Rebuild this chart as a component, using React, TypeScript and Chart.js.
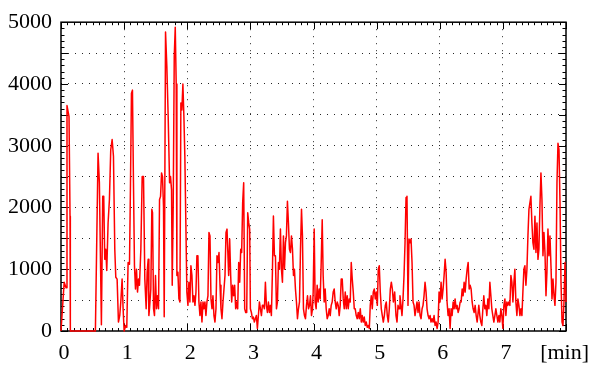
import React, { useEffect, useRef } from "react";
import { Chart, registerables } from "chart.js";

Chart.register(...registerables);

// time [min], value
const seg0: [number, number][] = [
  [0, 0], [0.05, 790], [0.08, 700], [0.095, 3650], [0.127, 3470], [0.143, 1860], [0.148, 0],
  [0.545, 0], [0.587, 2880], [0.608, 2400], [0.64, 100], [0.661, 2180], [0.677, 2180],
  [0.693, 1160], [0.709, 1325], [0.725, 980], [0.746, 1750], [0.767, 2130], [0.788, 2935],
  [0.81, 3100], [0.831, 2830], [0.852, 1325], [0.868, 870], [0.889, 840], [0.91, 145],
  [0.931, 253], [0.947, 470], [0.968, 840], [0.984, 360], [1.0, 0], [1.026, 90], [1.042, 60],
  [1.063, 1110], [1.085, 1080], [1.101, 2400], [1.116, 3850], [1.132, 3900], [1.148, 2400],
  [1.164, 1057], [1.18, 680], [1.196, 1000], [1.212, 630], [1.228, 840], [1.243, 740],
  [1.265, 1325], [1.286, 2500], [1.307, 2500],
];

const seg1: [number, number][] = [
  [1.328, 840], [1.349, 360], [1.365, 950], [1.381, 1160], [1.392, 250], [1.402, 360],
  [1.423, 680], [1.439, 1970], [1.45, 1915], [1.466, 360], [1.481, 250], [1.497, 900],
  [1.513, 360], [1.529, 570], [1.545, 360], [1.561, 2130], [1.577, 2180], [1.593, 2560],
  [1.608, 2500], [1.624, 2020], [1.635, 230], [1.656, 4840], [1.677, 4275], [1.698, 3470],
  [1.72, 2400], [1.735, 2500], [1.751, 2290], [1.762, 740], [1.778, 2080], [1.794, 4440],
  [1.81, 4920], [1.825, 4000], [1.836, 900], [1.852, 950], [1.868, 520], [1.884, 470],
  [1.899, 3690], [1.915, 3580], [1.931, 4000], [1.947, 3470], [1.962, 2830], [1.978, 1750],
  [1.994, 630], [2.011, 415], [2.026, 790], [2.042, 470], [2.058, 1057], [2.074, 900],
  [2.09, 470], [2.106, 570], [2.122, 415], [2.138, 630], [2.153, 1220], [2.169, 1220],
  [2.185, 470], [2.201, 250], [2.217, 470], [2.233, 145], [2.249, 470], [2.265, 360],
  [2.28, 470], [2.296, 250], [2.312, 470], [2.328, 570], [2.344, 1594], [2.36, 1540],
  [2.376, 520], [2.392, 360], [2.407, 570], [2.423, 250], [2.439, 145], [2.455, 360],
  [2.471, 1220], [2.487, 1110], [2.503, 1270], [2.519, 740], [2.534, 360], [2.55, 200],
  [2.566, 470], [2.582, 680], [2.598, 900], [2.614, 1594], [2.63, 1650],
];

const seg2: [number, number][] = [
  [2.656, 900], [2.672, 1490], [2.688, 900], [2.704, 470], [2.72, 740], [2.735, 570],
  [2.751, 740], [2.767, 360], [2.783, 470], [2.799, 360], [2.815, 1110], [2.831, 790],
  [2.847, 1325], [2.862, 1270], [2.878, 2080], [2.894, 2400], [2.91, 360], [2.926, 300],
  [2.942, 300], [2.958, 1915], [2.974, 1750], [2.989, 1650], [3.0, 360], [3.016, 300],
  [3.032, 200], [3.048, 225], [3.063, 145], [3.079, 200], [3.095, 250], [3.111, 40],
  [3.127, 250], [3.143, 470], [3.159, 360], [3.175, 250], [3.19, 415], [3.206, 415],
  [3.222, 360], [3.238, 790], [3.254, 415], [3.27, 300], [3.286, 470], [3.302, 300],
  [3.317, 415], [3.333, 250], [3.349, 950], [3.365, 1862], [3.381, 1220], [3.397, 1220],
  [3.413, 360], [3.429, 470], [3.444, 1110], [3.46, 1000], [3.476, 1650], [3.492, 1000],
  [3.508, 790], [3.524, 1540], [3.54, 1000], [3.556, 1430], [3.571, 1540], [3.587, 2100],
  [3.603, 1750], [3.619, 1325], [3.635, 1270], [3.651, 1540], [3.667, 1325], [3.683, 900],
  [3.698, 1000], [3.714, 680], [3.73, 470], [3.746, 200], [3.762, 360], [3.778, 470],
  [3.794, 1325], [3.81, 1970], [3.825, 1540], [3.841, 360], [3.857, 250], [3.873, 200],
  [3.889, 415], [3.905, 570], [3.921, 360], [3.937, 415], [3.952, 570], [3.968, 250],
  [3.984, 360],
];

const seg3: [number, number][] = [
  [3.995, 630], [4.011, 1650], [4.026, 470], [4.042, 360], [4.058, 740], [4.074, 470],
  [4.09, 680], [4.106, 520], [4.122, 1110], [4.138, 1800], [4.153, 900], [4.169, 470],
  [4.185, 680], [4.201, 360], [4.217, 200], [4.233, 250], [4.249, 360], [4.265, 250],
  [4.28, 415], [4.296, 470], [4.312, 630], [4.328, 680], [4.344, 470], [4.36, 360],
  [4.376, 470], [4.392, 415], [4.407, 250], [4.423, 415], [4.439, 840], [4.455, 840],
  [4.471, 520], [4.487, 360], [4.503, 630], [4.519, 360], [4.534, 570], [4.55, 360],
  [4.566, 520], [4.582, 470], [4.598, 1110], [4.614, 840], [4.63, 630], [4.646, 360],
  [4.661, 360], [4.677, 250], [4.693, 200], [4.709, 300], [4.725, 200], [4.741, 360],
  [4.757, 145], [4.772, 250], [4.788, 145], [4.804, 225], [4.82, 90], [4.836, 145],
  [4.852, 60], [4.868, 90], [4.884, 40], [4.899, 415], [4.915, 570], [4.931, 360],
  [4.947, 630], [4.963, 680], [4.979, 520], [4.995, 630], [5.011, 415], [5.026, 1000],
  [5.042, 1057], [5.058, 630], [5.074, 360], [5.09, 250], [5.106, 145], [5.122, 250],
  [5.138, 415], [5.153, 470], [5.169, 250], [5.185, 145], [5.201, 360], [5.217, 680],
  [5.233, 790], [5.249, 680], [5.265, 470],
];

const seg4: [number, number][] = [
  [5.286, 630], [5.307, 250], [5.323, 145], [5.339, 415], [5.355, 360], [5.37, 570],
  [5.386, 415], [5.402, 250], [5.418, 520], [5.434, 900], [5.45, 1430], [5.466, 2160],
  [5.481, 2180], [5.497, 415], [5.513, 1490], [5.529, 1430], [5.545, 1490], [5.561, 1110],
  [5.577, 470], [5.593, 415], [5.608, 250], [5.624, 360], [5.64, 470], [5.656, 300],
  [5.672, 470], [5.688, 250], [5.704, 200], [5.72, 360], [5.735, 415], [5.751, 570],
  [5.767, 790], [5.783, 630], [5.799, 360], [5.815, 250], [5.831, 200], [5.847, 250],
  [5.862, 145], [5.878, 200], [5.894, 145], [5.91, 250], [5.926, 90], [5.942, 145],
  [5.958, 40], [5.974, 145], [5.989, 630], [6.005, 470], [6.021, 790], [6.037, 520],
  [6.053, 680], [6.069, 900], [6.085, 1160], [6.101, 950], [6.116, 470], [6.132, 250],
  [6.148, 360], [6.164, 40], [6.18, 360], [6.196, 250], [6.212, 470], [6.228, 360],
  [6.243, 520], [6.259, 360], [6.275, 415], [6.291, 300], [6.307, 360], [6.323, 470],
  [6.339, 470], [6.355, 680], [6.37, 570], [6.386, 790], [6.402, 630], [6.418, 840],
  [6.434, 1000], [6.45, 1110], [6.466, 680], [6.481, 740], [6.497, 680], [6.513, 470],
  [6.529, 360], [6.545, 300], [6.561, 415], [6.577, 250], [6.593, 145],
];

const seg5: [number, number][] = [
  [6.619, 415], [6.635, 250], [6.651, 145], [6.667, 90], [6.683, 360], [6.698, 570],
  [6.714, 360], [6.73, 415], [6.746, 250], [6.762, 520], [6.778, 360], [6.794, 790],
  [6.81, 570], [6.825, 360], [6.841, 250], [6.857, 145], [6.873, 250], [6.889, 360],
  [6.905, 250], [6.921, 145], [6.937, 250], [6.952, 145], [6.968, 360], [6.984, 250],
  [7.0, 40], [7.016, 415], [7.032, 520], [7.048, 250], [7.063, 470], [7.079, 415],
  [7.095, 470], [7.111, 415], [7.127, 900], [7.143, 790], [7.159, 470], [7.175, 790],
  [7.19, 1000], [7.206, 470], [7.222, 250], [7.238, 520], [7.254, 415], [7.27, 250],
  [7.286, 360], [7.302, 250], [7.317, 630], [7.333, 1000], [7.349, 1057], [7.365, 740],
  [7.381, 1000], [7.397, 1540], [7.413, 1970], [7.429, 2080], [7.444, 2180], [7.46, 1750],
  [7.476, 1430], [7.492, 1325], [7.508, 1860], [7.524, 1270], [7.54, 1750], [7.556, 1160],
  [7.571, 1325], [7.587, 2020], [7.603, 2560], [7.619, 2130], [7.635, 1220], [7.651, 1594],
  [7.667, 1270], [7.683, 570], [7.698, 950], [7.714, 1650], [7.73, 1220], [7.746, 1540],
  [7.762, 1057], [7.778, 520], [7.794, 840], [7.81, 570], [7.825, 415], [7.841, 790],
  [7.857, 2400], [7.873, 3040], [7.889, 2935], [7.905, 2080], [7.921, 790], [7.937, 145],
  [7.952, 90], [7.968, 470], [7.984, 1110], [8.0, 470],
];

const X_MIN = 0;
const X_MAX = 8;
const Y_MIN = 0;
const Y_MAX = 5000;
const X_UNIT_LABEL = "[min]";

const FONT = "'Liberation Serif', 'Times New Roman', 'DejaVu Serif', serif";

const framePlugin = {
  id: "gnuplotFrame",
  beforeDatasetsDraw(chart: any) {
    const { ctx, chartArea: a, scales } = chart;
    const x = scales.x;
    const y = scales.y;
    ctx.save();
    ctx.strokeStyle = "#000";
    ctx.lineWidth = 1;
    const seg = (x1: number, y1: number, x2: number, y2: number) => {
      ctx.beginPath();
      ctx.moveTo(x1, y1);
      ctx.lineTo(x2, y2);
      ctx.stroke();
    };
    for (let v = Y_MIN; v <= Y_MAX; v += 100) {
      const py = Math.round(y.getPixelForValue(v)) + 0.5;
      const len = v % 500 === 0 ? 7 : 3.5;
      seg(a.left, py, a.left + len, py);
      seg(a.right, py, a.right - len, py);
    }
    for (let i = X_MIN * 10; i <= X_MAX * 10; i++) {
      const px = Math.round(x.getPixelForValue(i / 10)) + 0.5;
      const len = i % 10 === 0 ? 7 : 3;
      seg(px, a.bottom, px, a.bottom - len);
      seg(px, a.top, px, a.top + len);
    }
    ctx.lineWidth = 1.5;
    ctx.strokeRect(a.left, a.top, a.right - a.left, a.bottom - a.top);
    ctx.restore();
  },
};

export default function App() {
  const canvasRef = useRef<HTMLCanvasElement | null>(null);

  useEffect(() => {
    if (!canvasRef.current) return;
    const points = [...seg0, ...seg1, ...seg2, ...seg3, ...seg4, ...seg5].map(([t, v]) => ({ x: t, y: v }));
    const chart = new Chart(canvasRef.current, {
      type: "line",
      data: {
        datasets: [
          {
            data: points,
            borderColor: "#ff0000",
            borderWidth: 1.5,
            pointRadius: 0,
            tension: 0,
            fill: false,
            borderJoinStyle: "round",
            clip: false,
          } as any,
        ],
      },
      plugins: [framePlugin],
      options: {
        animation: false,
        responsive: true,
        maintainAspectRatio: false,
        layout: { padding: { top: 20, right: 25, left: 0, bottom: 0 } },
        plugins: { legend: { display: false }, tooltip: { enabled: false } },
        scales: {
          x: {
            type: "linear",
            min: X_MIN,
            max: X_MAX,
            afterFit: (s: any) => {
              s.height = 36;
              s.paddingLeft = 0;
              s.paddingRight = 0;
            },
            ticks: {
              stepSize: 1,
              autoSkip: false,
              maxRotation: 0,
              padding: 9,
              labelOffset: 3,
              color: "#000",
              font: { family: FONT, size: 22 },
              callback: (v: any) => (v === X_MAX ? X_UNIT_LABEL + "\u2009\u2009" : String(v)),
            },
            grid: {
              drawTicks: false,
              lineWidth: 1,
              color: (c: any) =>
                c.tick && c.tick.value > X_MIN && c.tick.value < X_MAX ? "rgba(0,0,0,0.85)" : "rgba(0,0,0,0)",
            },
            border: { display: false, dash: [1, 6] },
          },
          y: {
            type: "linear",
            min: Y_MIN,
            max: Y_MAX,
            afterFit: (s: any) => {
              s.width = 61;
            },
            ticks: {
              stepSize: 500,
              autoSkip: false,
              padding: 9,
              color: "#000",
              font: { family: FONT, size: 22 },
              callback: (v: any) => (Number(v) % 1000 === 0 ? String(v) : ""),
            },
            grid: {
              drawTicks: false,
              lineWidth: 1,
              color: (c: any) =>
                c.tick && c.tick.value > Y_MIN && c.tick.value < Y_MAX ? "rgba(0,0,0,0.85)" : "rgba(0,0,0,0)",
            },
            border: { display: false, dash: [1, 6] },
          },
        },
      },
    } as any);
    return () => chart.destroy();
  }, []);

  return (
    <div style={{ position: "absolute", left: 0, top: 0, width: 591, height: 367, background: "#fff" }}>
      <canvas ref={canvasRef} />
    </div>
  );
}
